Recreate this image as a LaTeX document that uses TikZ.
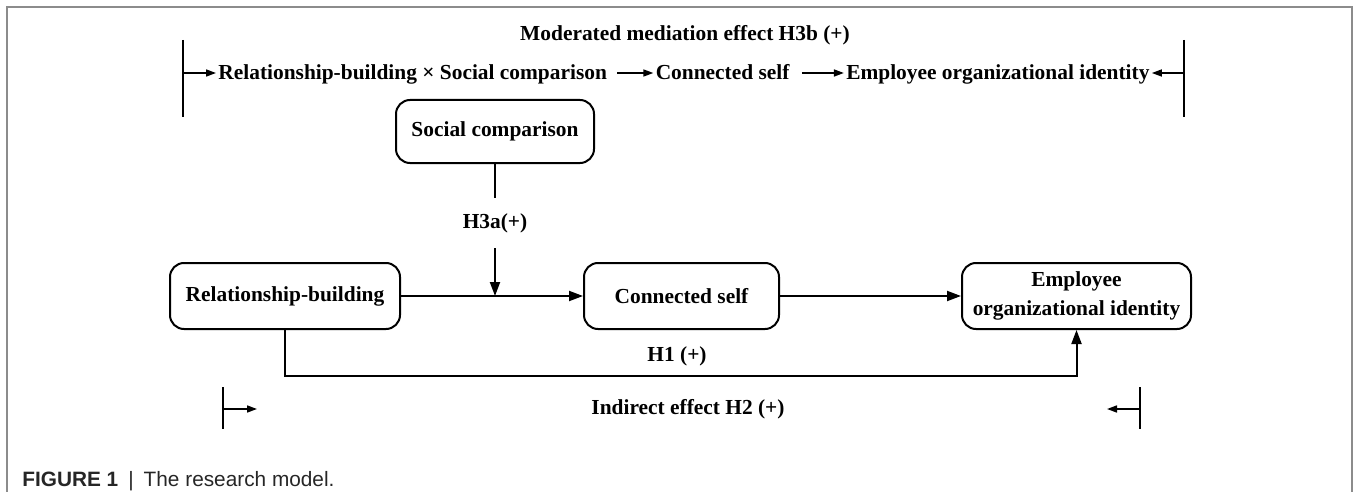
\documentclass[tikz,border=0pt]{standalone}
\usepackage{fontspec}
\setmainfont{Liberation Serif}
\newfontfamily\capfont{Liberation Sans}
\usetikzlibrary{arrows.meta,positioning}
\newcommand\labfont{\fontsize{10.7pt}{14.5pt}\selectfont\bfseries}

\begin{document}
\begin{tikzpicture}[
  x=0.5pt, y=-0.5pt,
  >={Triangle[length=7pt,width=5pt]},
  every node/.style={font=\labfont},
  var/.style={draw, rectangle, rounded corners=7pt, line width=1pt,
              minimum height=33pt, inner sep=0pt, align=center},
  txt/.style={inner xsep=1pt, inner ysep=2pt},
  lnk/.style={line width=1pt},
  bar/.style={line width=1pt},
  tip/.style={line width=0.8pt, -{Triangle[length=5pt,width=3.5pt]}},
  frm/.style={draw=black!45, line width=0.8pt}
]
\useasboundingbox (0,0) rectangle (1354,492);
% frame
\draw[frm] (7,492) -- (7,7) -- (1352,7) -- (1352,492);

% moderated mediation row
\node (mm) at (685,35) {Moderated mediation effect H3b (+)};
\node[txt, anchor=base west] (t1) at (216,80) {Relationship-building × Social comparison};
\node[txt, base right=22pt of t1] (t2) {Connected self};
\node[txt, base right=26pt of t2] (t3) {Employee organizational identity};
\coordinate (lt) at (183,73);
\coordinate (rt) at (1184,73);
\draw[bar] (183,40) -- (183,117);
\draw[bar] (1184,40) -- (1184,117);
\draw[tip] (lt) -- (lt -| t1.west);
\draw[tip, shorten <=4pt] (t1.east |- lt) -- (t2.west |- lt);
\draw[tip, shorten <=5pt] (t2.east |- lt) -- (t3.west |- lt);
\draw[tip] (rt) -- (rt -| t3.east);

% variables
\node[var, minimum width=99pt, minimum height=31.5pt] (soc) at (495,131.5) {Social comparison};
\node[var, minimum width=115pt] (rel) at (285,296) {Relationship-building};
\node[var, minimum width=97.5pt] (con) at (681.5,296) {Connected self};
\node[var, minimum width=114.5pt] (emp) at (1076.5,296) {Employee\\organizational identity};

% paths
\node[minimum height=25pt, inner sep=0pt] (h3a) at (495,223) {H3a(+)};
\coordinate (mod) at (h3a |- rel.east);
\draw[lnk] (soc) -- (h3a);
\draw[lnk, ->] (h3a) -- (mod);
\draw[lnk, ->] (rel) -- (con);
\draw[lnk, ->] (con) -- (emp);
\draw[lnk, ->] (rel.south) -- ++(0,46) -| (emp.south);
\node (h1) at (677,356) {H1 (+)};

% indirect effect
\node (h2) at (688,409) {Indirect effect H2 (+)};
\coordinate (lb) at (223,409);
\coordinate (rb) at (1140,409);
\draw[bar] (223,387) -- (223,429);
\draw[bar] (1140,387) -- (1140,429);
\draw[tip] (lb) -- ++(34,0);
\draw[tip] (rb) -- ++(-33,0);

% caption
\node[anchor=base west, inner sep=0pt, font=\capfont\fontsize{10.4pt}{12pt}\selectfont, text=black!85]
  (cap) at (22,486) {\textbf{FIGURE 1}\hspace{5pt}|\hspace{5pt}The research model.};
\end{tikzpicture}
\end{document}
